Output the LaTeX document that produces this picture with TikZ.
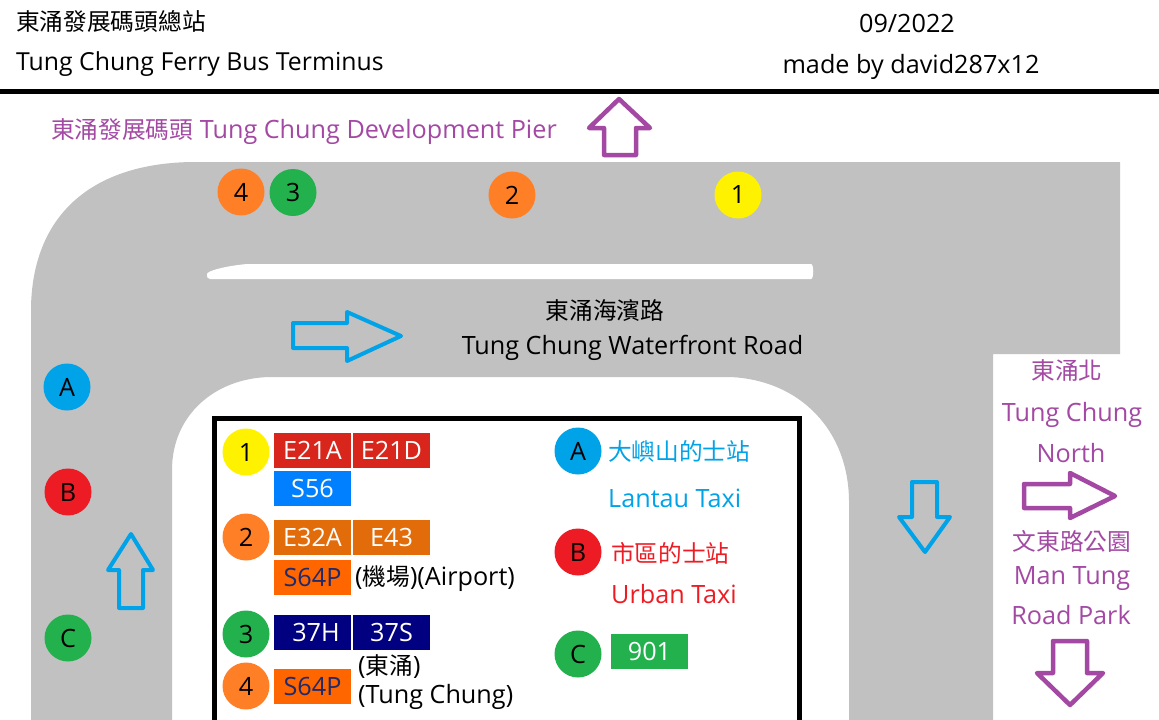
\documentclass[tikz,border=0pt]{standalone}
\usepackage{fontspec}
\setmainfont{Open Sans}
\newfontfamily\cjk[Scale=0.94]{Noto Sans CJK TC}
\definecolor{roadgray}{HTML}{C1C1C1}
\definecolor{myblue}{HTML}{00A2E8}
\definecolor{myred}{HTML}{ED1C24}
\definecolor{mygreen}{HTML}{22B14C}
\definecolor{myorange}{HTML}{FF7F27}
\definecolor{myyellow}{HTML}{FFF200}
\definecolor{mypurple}{HTML}{A349A4}
\definecolor{rred}{HTML}{D9261C}
\definecolor{rblue}{HTML}{0080FF}
\definecolor{rorange}{HTML}{E36C0A}
\definecolor{rorangeb}{HTML}{FF6600}
\definecolor{rnavy}{HTML}{000080}
\definecolor{rtext}{HTML}{1F2A6B}
\newcommand{\txt}{\fontsize{25.2}{28}\selectfont}
\newcommand{\txtsmall}{\fontsize{24.8}{28}\selectfont}
\tikzset{
  x=1pt,y=-1pt,
  label text/.style={inner sep=0pt,font=\txt,text=black},
  west text/.style={label text,anchor=west},
  purple text/.style={label text,text=mypurple},
  stopdot/.style={circle,minimum size=47pt,inner sep=0pt,font=\txt,text=black},
  routebox/.style={minimum width=77pt,minimum height=35pt,inner sep=0pt,font=\txt,text=white},
  blue arrow/.style={draw=myblue,line width=4pt,line join=round},
  purple arrow/.style={draw=mypurple,line width=4.5pt,line join=round},
}
\begin{document}
\begin{tikzpicture}
\useasboundingbox (0,0) rectangle (1159,720);
\clip (0,0) rectangle (1159,720);
\fill[white] (0,0) rectangle (1159,720);
% road
\fill[roadgray] (1120,162) -- (193,162) .. controls (95,163) and (33,212) .. (31,307)
  -- (31,720) -- (172,720) -- (172,470) .. controls (172,415) and (215,378) .. (270,377)
  -- (730,377) .. controls (800,380) and (848,430) .. (849,500) -- (849,720) -- (993,720)
  -- (993,354) -- (1120,354) -- cycle;
\fill[white] (207,274) .. controls (207,271) and (225,266) .. (247,264) -- (811,264)
  .. controls (814,264) and (814,279) .. (811,279) -- (210,279) .. controls (207,279) and (207,277) .. (207,274) -- cycle;
% header
\fill[black] (0,89) rectangle (1159,94);
\node[west text] (t1) at (16,21) {\cjk 東涌發展碼頭總站};
\node[west text,font=\txtsmall] (t2) at (16,64.5) {Tung Chung Ferry Bus Terminus};
\node[label text] (t3) at (907,23) {09/2022};
\node[label text] (t4) at (911,66.5) {made by david287x12};
\node[purple text,anchor=west] (t5) at (51,132) {{\cjk 東涌發展碼頭} Tung Chung Development Pier};
\node[label text] (t6) at (605,311) {\cjk 東涌海濱路};
\node[label text] (t7) at (632.5,348) {Tung Chung Waterfront Road};
% arrows
\draw[purple arrow] (604,155) -- (604,128) -- (589,128) -- (619,99) -- (650,128) -- (636,128) -- (636,155) -- cycle;
\draw[blue arrow] (293,323) -- (347,323) -- (347,312) -- (401,336) -- (347,361) -- (347,348) -- (293,348) -- cycle;
\draw[blue arrow] (912,482) -- (937,482) -- (937,517) -- (950,517) -- (925,552) -- (899,517) -- (912,517) -- cycle;
\draw[blue arrow] (119,608) -- (143,608) -- (143,570) -- (153,570) -- (131,534) -- (108,570) -- (119,570) -- cycle;
\draw[purple arrow] (1024,484) -- (1070,484) -- (1070,473) -- (1115,496) -- (1070,518) -- (1070,508) -- (1024,508) -- cycle;
\draw[purple arrow] (1053,641) -- (1087,641) -- (1087,673) -- (1103,673) -- (1070,705) -- (1037,673) -- (1053,673) -- cycle;
% stops on road
\node[stopdot,fill=myorange] (s4) at (241,192) {4};
\node[stopdot,fill=mygreen] (s3) at (293,192.5) {3};
\node[stopdot,fill=myorange] (s2) at (512,195) {2};
\node[stopdot,fill=myyellow] (s1) at (738,195) {1};
\node[stopdot,fill=myblue] (sa) at (67,387) {A};
\node[stopdot,fill=myred] (sb) at (68,492) {B};
\node[stopdot,fill=mygreen] (sc) at (68,638) {C};
% legend box
\draw[black,line width=5pt,fill=white] (214.5,730) -- (214.5,418.5) -- (799.5,418.5) -- (799.5,730);
\node[stopdot,fill=myyellow] (l1) at (246,452) {1};
\node[stopdot,fill=myorange] (l2) at (246,537) {2};
\node[stopdot,fill=mygreen] (l3) at (246,634) {3};
\node[stopdot,fill=myorange] (l4) at (246,686) {4};
\node[stopdot,fill=myblue] (la) at (578,451) {A};
\node[stopdot,fill=myred] (lb) at (578,552) {B};
\node[stopdot,fill=mygreen] (lc) at (578,654) {C};
% routes
\node[routebox,fill=rred] (r1) at (312.5,450.5) {E21A};
\node[routebox,fill=rred] (r2) at (391.5,450.5) {E21D};
\node[routebox,fill=rblue] (r3) at (312.5,488.5) {S56};
\node[routebox,fill=rorange] (r4) at (312.5,537.5) {E32A};
\node[routebox,fill=rorange] (r5) at (391.5,537.5) {E43};
\node[routebox,fill=rorangeb,text=rtext] (r6) at (312.5,577.5) {S64P};
\node[routebox,fill=rnavy] (r7) at (312.5,632.5) {\hspace{7pt}37H};
\node[routebox,fill=rnavy] (r8) at (391.5,632.5) {37S};
\node[routebox,fill=rorangeb,text=rtext] (r9) at (312.5,686.5) {S64P};
\node[routebox,fill=mygreen] (r10) at (649.5,651) {901};
% legend text
\node[west text] (n1) at (355,579) {({\cjk 機場})(Airport)};
\node[west text] (n2) at (358,667) {({\cjk 東涌})};
\node[west text] (n3) at (358,696.5) {(Tung Chung)};
\node[west text,text=myblue] (n4) at (608,451) {\cjk 大嶼山的士站};
\node[west text,text=myblue] (n5) at (608,498) {Lantau Taxi};
\node[west text,text=myred] (n6) at (611,553) {\cjk 市區的士站};
\node[west text,text=myred] (n7) at (611,594) {Urban Taxi};
% right text
\node[purple text] (p1) at (1067,371) {\cjk 東涌北};
\node[purple text] (p2) at (1072,415) {Tung Chung};
\node[purple text] (p3) at (1071,453) {North};
\node[purple text] (p4) at (1072,541) {\cjk 文東路公園};
\node[purple text] (p5) at (1072,579) {Man Tung};
\node[purple text] (p6) at (1071,615) {Road Park};
\end{tikzpicture}
\end{document}
